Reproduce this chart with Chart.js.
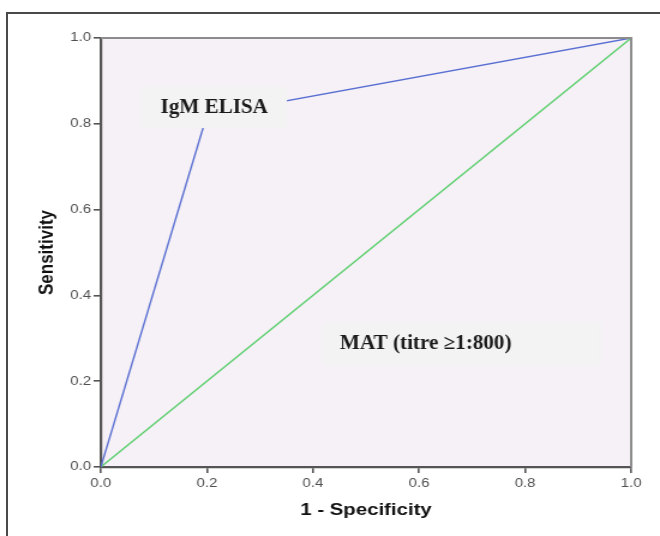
<!DOCTYPE html>
<html>
<head>
<meta charset="utf-8">
<title>ROC curve</title>
<style>
  html, body { margin: 0; padding: 0; background: #fff; width: 660px; height: 536px; overflow: hidden; }
  #frame { position: absolute; left: 6px; top: 12px; width: 700px; height: 600px;
           border-left: 2px solid #4a4a4a; border-top: 2px solid #4a4a4a; }
  /* the source figure is stretched sideways, so the chart is drawn narrow and widened */
  #wrap { position: absolute; left: 0; top: 0; width: 550px; height: 536px;
          transform: scaleX(1.2); transform-origin: 0 0; }
</style>
<script src="https://cdn.jsdelivr.net/npm/chart.js@4/dist/chart.umd.min.js"></script>
</head>
<body>
<div id="frame"></div>
<div id="wrap"><canvas id="chart-roc"></canvas></div>
<script>
// ROC points (1 - specificity, sensitivity)
const elisaX = [0, 0.2, 1];
const elisaY = [0, 0.82, 1];
const matX = [0, 1];
const matY = [0, 1];

const axisTicks = [0, 0.2, 0.4, 0.6, 0.8, 1];
const xTitle = '1 - Specificity';
const yTitle = 'Sensitivity';
const curveLabels = ['IgM ELISA', 'MAT (titre \u22651:800)'];

const PLOT_BG = '#f5f1f6';
const BOX_BG = '#f3f3f3';
const AXIS_COLOR = '#555555';
const TICK_FONT = { family: '"Liberation Sans", Arial, sans-serif', size: 12.5 };
const TITLE_FONT = { family: '"Liberation Sans", Arial, sans-serif', size: 17, weight: 'bold' };

function toPoints(xs, ys) {
  return xs.map((x, i) => ({ x, y: ys[i] }));
}

// label boxes, in data units of the two axes
const labelBoxes = [
  { text: curveLabels[0], x0: 0.077, x1: 0.351, y0: 0.790, y1: 0.886, align: 'center', tx: 0.214, ty: 0.838 },
  { text: curveLabels[1], x0: 0.419, x1: 0.942, y0: 0.238, y1: 0.336, align: 'left', tx: 0.451, ty: 0.287 },
];

const plotDecor = {
  id: 'plotDecor',
  beforeDraw(chart) {
    const { ctx, chartArea: a } = chart;
    ctx.save();
    ctx.fillStyle = PLOT_BG;
    ctx.fillRect(a.left, a.top, a.right - a.left, a.bottom - a.top);
    ctx.restore();
  },
  afterDatasetsDraw(chart) {
    const { ctx, chartArea: a, scales } = chart;
    ctx.save();
    ctx.strokeStyle = '#8c8c8c';
    ctx.lineWidth = 2;
    ctx.beginPath();
    ctx.moveTo(a.left, a.top);
    ctx.lineTo(a.right, a.top);
    ctx.lineTo(a.right, a.bottom);
    ctx.stroke();

    labelBoxes.forEach((box) => {
      const left = scales.x.getPixelForValue(box.x0);
      const right = scales.x.getPixelForValue(box.x1);
      const top = scales.y.getPixelForValue(box.y1);
      const bottom = scales.y.getPixelForValue(box.y0);
      ctx.fillStyle = BOX_BG;
      ctx.fillRect(left, top, right - left, bottom - top);

      ctx.save();
      ctx.translate(scales.x.getPixelForValue(box.tx), scales.y.getPixelForValue(box.ty));
      ctx.scale(0.88, 1);
      ctx.font = 'bold 20px "Liberation Serif", "Times New Roman", serif';
      ctx.fillStyle = '#1a1a1a';
      ctx.textAlign = box.align;
      ctx.textBaseline = 'middle';
      ctx.fillText(box.text, 0, 0);
      ctx.restore();
    });
    ctx.restore();
  },
};

function axisOptions(title, titlePadding, fitSize) {
  return {
    type: 'linear',
    min: 0,
    max: 1,
    afterBuildTicks(scale) {
      scale.ticks = axisTicks.map((value) => ({ value }));
    },
    afterFit(scale) {
      if (scale.isHorizontal()) scale.height = fitSize;
      else scale.width = fitSize;
    },
    ticks: {
      font: TICK_FONT,
      color: '#505050',
      padding: 0,
      maxRotation: 0,
      callback: (value) => Number(value).toFixed(1),
    },
    grid: {
      drawOnChartArea: false,
      drawTicks: true,
      tickLength: 6,
      color: AXIS_COLOR,
      lineWidth: 1.6,
    },
    border: { display: true, color: AXIS_COLOR, width: 2.2 },
    title: {
      display: true,
      text: title,
      font: TITLE_FONT,
      color: '#111',
      padding: titlePadding,
    },
  };
}

function buildChart() {
  const ctx = document.getElementById('chart-roc').getContext('2d');
  const xAxis = axisOptions(xTitle, { top: 0, bottom: 15 }, 69);
  xAxis.ticks.padding = 3;
  const yAxis = axisOptions(yTitle, { top: 29, bottom: 0 }, 84);
  yAxis.ticks.padding = 2;

  return new Chart(ctx, {
    type: 'scatter',
    data: {
      datasets: [
        {
          label: curveLabels[0],
          data: toPoints(elisaX, elisaY),
          showLine: true,
          borderColor: '#5a6fd3',
          borderWidth: 1.4,
          pointRadius: 0,
          tension: 0,
        },
        {
          label: curveLabels[1],
          data: toPoints(matX, matY),
          showLine: true,
          borderColor: '#5dcf6e',
          borderWidth: 1.4,
          pointRadius: 0,
          tension: 0,
        },
      ],
    },
    options: {
      responsive: true,
      maintainAspectRatio: false,
      animation: false,
      layout: { padding: { left: 0, right: 24, top: 38, bottom: 0 } },
      plugins: {
        legend: { display: false },
        tooltip: { enabled: false },
      },
      scales: { x: xAxis, y: yAxis },
    },
    plugins: [plotDecor],
  });
}

buildChart();
</script>
</body>
</html>
